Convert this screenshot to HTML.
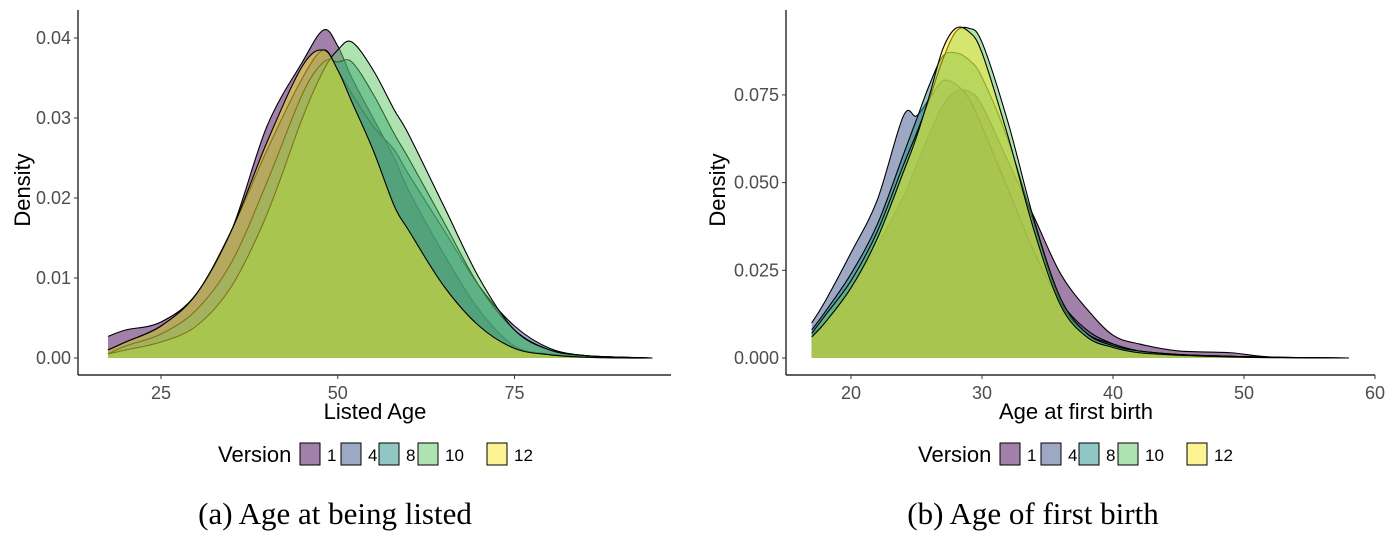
<!DOCTYPE html>
<html><head><meta charset="utf-8"><style>
body{margin:0;background:#fff;width:1389px;height:543px;overflow:hidden}
svg{display:block}
text{font-family:"Liberation Sans",sans-serif}
</style></head><body>
<svg id="s" width="1389" height="543"></svg>
<script>
const versions=["1","4","8","10","12"];
const colors=["#440154","#3b528b","#21908c","#5dc863","#fde725"];
const leftX=[17.5,20,25,30,35,40,45,48,50,52,55,58,60,65,70,75,80,85,90,94.5];
const left1=[.0027,.0035,.0045,.008,.016,.029,.037,.041,.039,.035,.030,.025,.021,.013,.006,.0015,.0005,.0002,.0001,0];
const left4=[.001,.002,.004,.008,.016,.026,.035,.0385,.036,.033,.029,.026,.023,.016,.009,.004,.0012,.0003,.0001,0];
const left8=[.0005,.0015,.003,.006,.012,.022,.033,.037,.037,.037,.033,.028,.025,.017,.009,.0035,.001,.0003,.0001,0];
const left10=[.0005,.001,.002,.004,.009,.018,.030,.036,.0385,.0395,.036,.031,.028,.019,.010,.0035,.001,.0003,.0001,0];
const left12=[.001,.002,.004,.008,.016,.027,.0365,.0385,.036,.032,.026,.019,.016,.009,.004,.0012,.0004,.0001,0,0];
const rightX=[17,18,20,22,24,25,26,27,28,29,30,32,34,36,38,40,42,45,49,52,58];
const right1=[.007,.010,.020,.032,.046,.055,.064,.072,.076,.076,.072,.056,.040,.024,.014,.0065,.004,.002,.0015,.0003,0];
const right4=[.010,.016,.030,.045,.069,.069,.074,.079,.078,.074,.066,.048,.030,.016,.008,.004,.002,.001,.0005,.0002,0];
const right8=[.008,.013,.024,.038,.058,.068,.078,.086,.087,.085,.080,.062,.038,.016,.007,.004,.002,.001,.0005,.0002,0];
const right10=[.007,.012,.022,.036,.055,.064,.074,.085,.093,.094,.090,.067,.039,.017,.007,.0035,.002,.001,.0005,.0002,0];
const right12=[.006,.010,.020,.034,.053,.063,.075,.088,.094,.093,.087,.063,.036,.015,.006,.003,.0015,.0008,.0003,.0001,0];
const leftXTicks=[25,50,75], leftYTicks=[0,.01,.02,.03,.04], leftYLabels=["0.00","0.01","0.02","0.03","0.04"];
const rightXTicks=[20,30,40,50,60], rightYTicks=[0,.025,.05,.075], rightYLabels=["0.000","0.025","0.050","0.075"];

const NS="http://www.w3.org/2000/svg", svg=document.getElementById('s');
function mk(t,a,p){const e=document.createElementNS(NS,t);for(const k in a)e.setAttribute(k,a[k]);(p||svg).appendChild(e);return e;}
function path(pts){let d=`M${pts[0][0]},${pts[0][1]}`;for(let i=0;i<pts.length-1;i++){const p0=pts[i-1]||pts[i],p1=pts[i],p2=pts[i+1],p3=pts[i+2]||p2;
d+=` C${p1[0]+(p2[0]-p0[0])/6},${p1[1]+(p2[1]-p0[1])/6} ${p2[0]-(p3[0]-p1[0])/6},${p2[1]-(p3[1]-p1[1])/6} ${p2[0]},${p2[1]}`;}return d;}
function chart(o){
 const g=mk('g',{});
 const xs=v=>o.x0+(v-o.xv0)*o.xk, ys=v=>o.y0-v*o.yk;
 o.series.forEach((s,i)=>{
  const pts=o.xs.map((x,j)=>[xs(x),ys(s[j])]);
  const line=path(pts);
  const a=mk('path',{d:line+` L${xs(o.xs[o.xs.length-1])},${ys(0)} L${xs(o.xs[0])},${ys(0)} Z`,fill:colors[i],'fill-opacity':0.5,stroke:'none'},g);
  
  
  const l=mk('path',{d:line,fill:'none',stroke:'#000','stroke-width':1.1},g);
  
  
 });
 mk('line',{x1:o.ax,y1:o.top,x2:o.ax,y2:o.ay,stroke:'#000','stroke-width':1.2},g);
 mk('line',{x1:o.ax,y1:o.ay,x2:o.right,y2:o.ay,stroke:'#000','stroke-width':1.2},g);
 o.xt.forEach(v=>{mk('line',{x1:xs(v),y1:o.ay,x2:xs(v),y2:o.ay+4,stroke:'#333'},g);
  const t=mk('text',{x:xs(v),y:o.ay+24,'text-anchor':'middle','font-size':18,fill:'#4d4d4d'},g);t.textContent=v;});
 o.yt.forEach((v,i)=>{mk('line',{x1:o.ax-4,y1:ys(v),x2:o.ax,y2:ys(v),stroke:'#333'},g);
  const t=mk('text',{x:o.ax-7,y:ys(v)+6,'text-anchor':'end','font-size':18,fill:'#4d4d4d'},g);t.textContent=o.yl[i];});
 const xl=mk('text',{x:o.xlx,y:419,'text-anchor':'middle','font-size':22,fill:'#000'},g);xl.textContent=o.xlab;
 
 const yl=mk('text',{x:0,y:0,transform:`translate(${o.ylx},190) rotate(-90)`,'text-anchor':'middle','font-size':22,fill:'#000'},g);yl.textContent='Density';
 
 const lg=mk('g',{},g);
 const lt=mk('text',{x:o.lx,y:462,'font-size':22,fill:'#000'},lg);lt.textContent='Version';
 const sx=[300,341,379,418,487];
 versions.forEach((v,i)=>{const r=mk('rect',{x:o.lx+sx[i]-218,y:443,width:20,height:22,fill:colors[i],'fill-opacity':0.5,stroke:'#000','stroke-width':1},lg);
  
  const t=mk('text',{x:o.lx+sx[i]-218+27,y:461,'font-size':17,fill:'#000'},lg);t.textContent=v;});
 const c=mk('text',{x:o.cx,y:524,'text-anchor':'middle','font-size':31,fill:'#000'},g);
 c.setAttribute('style','font-family:"Liberation Serif",serif');c.textContent=o.cap;
 
}
chart({name:'chart-listed-age',xs:leftX,series:[left1,left4,left8,left10,left12],x0:161,xv0:25,xk:7.07,y0:358,yk:8000,
 ax:78,ay:375,top:10,right:671,xt:leftXTicks,yt:leftYTicks,yl:leftYLabels,xlab:'Listed Age',xlx:375,ylx:30,lx:218,cx:335,cap:'(a) Age at being listed'});
chart({name:'chart-first-birth',xs:rightX,series:[right1,right4,right8,right10,right12],x0:851,xv0:20,xk:13.1,y0:358,yk:3508,
 ax:786,ay:375,top:10,right:1375,xt:rightXTicks,yt:rightYTicks,yl:rightYLabels,xlab:'Age at first birth',xlx:1076,ylx:725,lx:918,cx:1033,cap:'(b) Age of first birth'});
</script>
</body></html>
